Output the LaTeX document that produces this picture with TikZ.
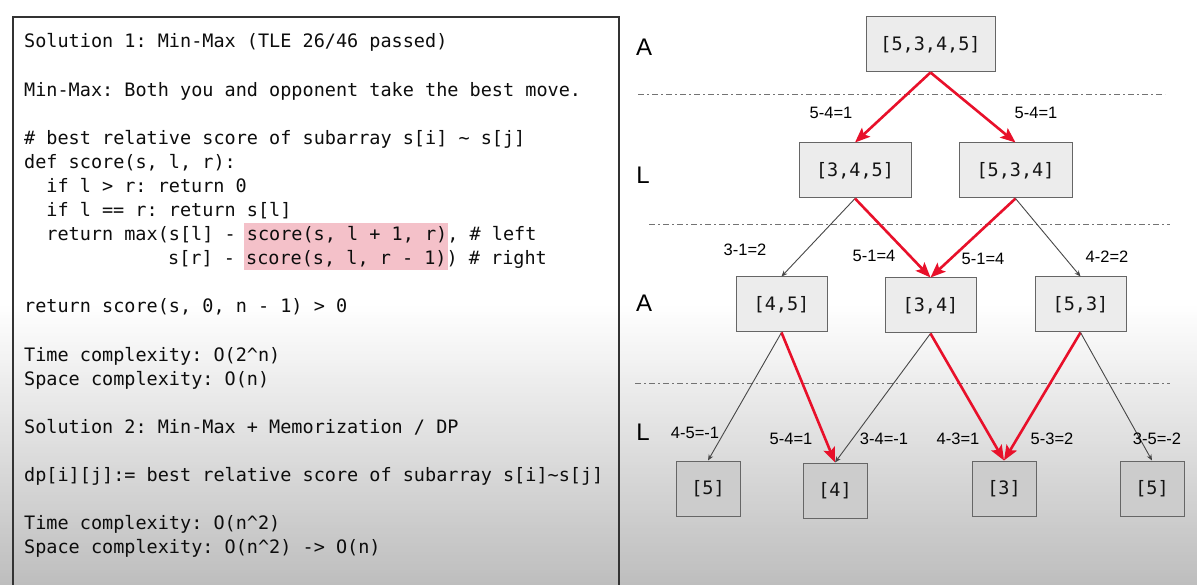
\documentclass[tikz,border=0pt]{standalone}
\usepackage{fontspec}
\setmonofont{DejaVu Sans Mono}
\setsansfont{Liberation Sans}
\usetikzlibrary{arrows.meta}
\definecolor{hl}{HTML}{F4C1C9}
\definecolor{redarr}{HTML}{E8102A}
\definecolor{boxline}{HTML}{666666}
\begin{document}
\begin{tikzpicture}[x=1pt,y=-1pt,
  code/.style={anchor=base west, inner sep=0pt, font=\ttfamily\fontsize{18.5}{22}\selectfont, text=black!95},
  lvl/.style={font=\sffamily\fontsize{24}{28}\selectfont, inner sep=0pt},
  elab/.style={font=\sffamily\fontsize{16.5}{20}\selectfont, inner sep=0pt},
  tbox/.style={draw=boxline, line width=1pt, fill=#1, font=\ttfamily\fontsize{18.5}{22}\selectfont, text=black!92, inner sep=0pt},
  tbox/.default={black!7.5},
  redarrow/.style={draw=redarr, line width=2.6pt, -{Stealth[length=15pt,width=12pt,inset=3pt]}},
  grayarrow/.style={draw=black!72, line width=0.9pt, -{Stealth[length=6pt,width=5pt]}},
  sep/.style={draw=black!55, line width=1pt, dash pattern=on 6pt off 3pt on 2pt off 3pt}
]
\useasboundingbox (0,0) rectangle (1197,585);
% background
\fill[white] (0,0) rectangle (1197,304);
\foreach \i in {0,...,93}{
  \pgfmathsetmacro{\p}{\i*25.5/93}
  \fill[black!\p] (0,303+\i*3) rectangle (1197,307+\i*3);
}
% left panel
\draw[black!80, line width=1.6pt] (13,592) -- (13,17) -- (619,17) -- (619,592);
\fill[hl] (244,223) rectangle (448,270);
\node[code] (t1) at (24,48) {Solution 1: Min-Max (TLE 26/46 passed)};
\node[code] (t2) at (24,97) {Min-Max: Both you and opponent take the best move.};
\node[code] (t3) at (24,145) {\# best relative score of subarray s[i] \textasciitilde{} s[j]};
\node[code] (t4) at (24,169) {def score(s, l, r):};
\node[code] (t5) at (46.2,193) {if l > r: return 0};
\node[code] (t6) at (46.2,217) {if l == r: return s[l]};
\node[code] (t7) at (46.2,241) {return max(s[l] - score(s, l + 1, r), \# left};
\node[code] (t8) at (168,265) {s[r] - score(s, l, r - 1)) \# right};
\node[code] (t9) at (24,313) {return score(s, 0, n - 1) > 0};
\node[code] (t10) at (24,361) {Time complexity: O(2\textasciicircum{}n)};
\node[code] (t11) at (24,385) {Space complexity: O(n)};
\node[code] (t12) at (24,433) {Solution 2: Min-Max + Memorization / DP};
\node[code] (t13) at (24,481) {dp[i][j]:= best relative score of subarray s[i]\textasciitilde{}s[j]};
\node[code] (t14) at (24,529) {Time complexity: O(n\textasciicircum{}2)};
\node[code] (t15) at (24,553) {Space complexity: O(n\textasciicircum{}2) -> O(n)};
% level labels
\node[lvl] (la1) at (644,47) {A};
\node[lvl] (ll1) at (643,175) {L};
\node[lvl] (la2) at (644,303) {A};
\node[lvl] (ll2) at (643,432) {L};
% separators
\coordinate (s1a) at (638,95); \coordinate (s1b) at (1165,95);
\coordinate (s2a) at (649,225); \coordinate (s2b) at (1170,225);
\coordinate (s3a) at (635,383); \coordinate (s3b) at (1170,383);
\draw[sep] (s1a) -- (s1b);
\draw[sep] (s2a) -- (s2b);
\draw[sep] (s3a) -- (s3b);
% tree nodes
\node[tbox, minimum width=129pt, minimum height=55pt] (r) at (930.5,44.5) {[5,3,4,5]};
\node[tbox, minimum width=112pt, minimum height=55pt] (a) at (855,170.5) {[3,4,5]};
\node[tbox, minimum width=113pt, minimum height=55pt] (b) at (1015.5,170.5) {[5,3,4]};
\node[tbox, minimum width=91pt, minimum height=55pt] (c) at (781.5,304.5) {[4,5]};
\node[tbox, minimum width=91pt, minimum height=55pt] (d) at (930.5,305.5) {[3,4]};
\node[tbox, minimum width=91pt, minimum height=55pt] (e) at (1080.5,304.5) {[5,3]};
\node[tbox=black!20, minimum width=64pt, minimum height=55pt] (f) at (708,488.5) {[5]};
\node[tbox=black!20, minimum width=64pt, minimum height=55pt] (g) at (835,490.5) {[4]};
\node[tbox=black!20, minimum width=64pt, minimum height=55pt] (h) at (1004,488.5) {[3]};
\node[tbox=black!20, minimum width=64pt, minimum height=55pt] (k) at (1152,488.5) {[5]};
% edges
\draw[redarrow] (r.south) -- (a.north);
\draw[redarrow] (r.south) -- (b.north);
\draw[grayarrow] (a.south) -- (c.north);
\draw[redarrow] (a.south) -- (d.north);
\draw[redarrow] (b.south) -- (d.north);
\draw[grayarrow] (b.south) -- (e.north);
\draw[grayarrow] (c.south) -- (f.north);
\draw[redarrow] (c.south) -- (g.north);
\draw[grayarrow] (d.south) -- (g.north);
\draw[redarrow] (d.south) -- (h.north);
\draw[redarrow] (e.south) -- (h.north);
\draw[grayarrow] (e.south) -- (k.north);
% edge labels
\node[elab] (e1) at (831,113) {5-4=1};
\node[elab] (e2) at (1036,113) {5-4=1};
\node[elab] (e3) at (745,250) {3-1=2};
\node[elab] (e4) at (874,256) {5-1=4};
\node[elab] (e5) at (983,259) {5-1=4};
\node[elab] (e6) at (1107,257) {4-2=2};
\node[elab] (e7) at (695,433) {4-5=-1};
\node[elab] (e8) at (791,439) {5-4=1};
\node[elab] (e9) at (884,439) {3-4=-1};
\node[elab] (e10) at (958,439) {4-3=1};
\node[elab] (e11) at (1052,439) {5-3=2};
\node[elab] (e12) at (1157,439) {3-5=-2};
\end{tikzpicture}
\end{document}
